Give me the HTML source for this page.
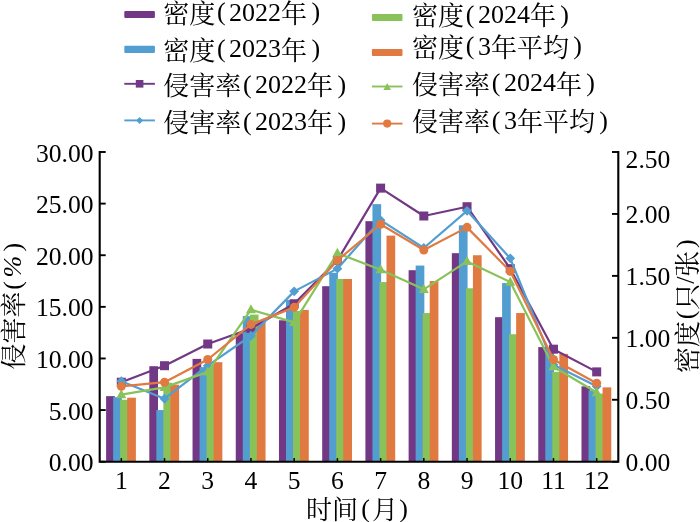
<!DOCTYPE html>
<html lang="zh"><head><meta charset="utf-8"><title>chart</title><style>html,body{margin:0;padding:0;background:#fff}svg{display:block}</style></head><body>
<svg width="700" height="522" viewBox="0 0 700 522">
<rect width="700" height="522" fill="#fff"/>
<rect x="106.11" y="396.15" width="8.7" height="65.55" fill="#723885"/>
<rect x="149.32" y="366.21" width="8.7" height="95.49" fill="#723885"/>
<rect x="192.54" y="358.88" width="8.7" height="102.82" fill="#723885"/>
<rect x="235.76" y="333.17" width="8.7" height="128.53" fill="#723885"/>
<rect x="278.97" y="320.27" width="8.7" height="141.43" fill="#723885"/>
<rect x="322.19" y="286.20" width="8.7" height="175.50" fill="#723885"/>
<rect x="365.41" y="221.17" width="8.7" height="240.53" fill="#723885"/>
<rect x="408.62" y="270.20" width="8.7" height="191.50" fill="#723885"/>
<rect x="451.84" y="253.17" width="8.7" height="208.53" fill="#723885"/>
<rect x="495.06" y="317.17" width="8.7" height="144.53" fill="#723885"/>
<rect x="538.27" y="347.11" width="8.7" height="114.59" fill="#723885"/>
<rect x="581.49" y="386.34" width="8.7" height="75.36" fill="#723885"/>
<rect x="113.14" y="397.18" width="8.7" height="64.52" fill="#529ED1"/>
<rect x="156.35" y="410.08" width="8.7" height="51.62" fill="#529ED1"/>
<rect x="199.57" y="367.14" width="8.7" height="94.56" fill="#529ED1"/>
<rect x="242.79" y="316.14" width="8.7" height="145.56" fill="#529ED1"/>
<rect x="286.00" y="299.93" width="8.7" height="161.77" fill="#529ED1"/>
<rect x="329.22" y="272.78" width="8.7" height="188.92" fill="#529ED1"/>
<rect x="372.44" y="204.13" width="8.7" height="257.57" fill="#529ED1"/>
<rect x="415.65" y="265.56" width="8.7" height="196.14" fill="#529ED1"/>
<rect x="458.87" y="225.30" width="8.7" height="236.40" fill="#529ED1"/>
<rect x="502.09" y="283.11" width="8.7" height="178.59" fill="#529ED1"/>
<rect x="545.30" y="352.27" width="8.7" height="109.43" fill="#529ED1"/>
<rect x="588.52" y="390.47" width="8.7" height="71.23" fill="#529ED1"/>
<rect x="120.17" y="399.76" width="8.7" height="61.94" fill="#8AC25A"/>
<rect x="163.38" y="382.73" width="8.7" height="78.97" fill="#8AC25A"/>
<rect x="206.60" y="365.18" width="8.7" height="96.52" fill="#8AC25A"/>
<rect x="249.82" y="314.59" width="8.7" height="147.11" fill="#8AC25A"/>
<rect x="293.03" y="310.98" width="8.7" height="150.72" fill="#8AC25A"/>
<rect x="336.25" y="278.98" width="8.7" height="182.72" fill="#8AC25A"/>
<rect x="379.47" y="282.07" width="8.7" height="179.63" fill="#8AC25A"/>
<rect x="422.68" y="313.04" width="8.7" height="148.66" fill="#8AC25A"/>
<rect x="465.90" y="288.27" width="8.7" height="173.43" fill="#8AC25A"/>
<rect x="509.12" y="334.21" width="8.7" height="127.49" fill="#8AC25A"/>
<rect x="552.33" y="371.89" width="8.7" height="89.81" fill="#8AC25A"/>
<rect x="595.55" y="393.57" width="8.7" height="68.13" fill="#8AC25A"/>
<rect x="127.20" y="397.70" width="8.7" height="64.00" fill="#E07A41"/>
<rect x="170.41" y="384.69" width="8.7" height="77.01" fill="#E07A41"/>
<rect x="213.63" y="362.18" width="8.7" height="99.52" fill="#E07A41"/>
<rect x="256.85" y="321.30" width="8.7" height="140.40" fill="#E07A41"/>
<rect x="300.06" y="309.95" width="8.7" height="151.75" fill="#E07A41"/>
<rect x="343.28" y="278.98" width="8.7" height="182.72" fill="#E07A41"/>
<rect x="386.50" y="235.62" width="8.7" height="226.08" fill="#E07A41"/>
<rect x="429.71" y="281.04" width="8.7" height="180.66" fill="#E07A41"/>
<rect x="472.93" y="255.23" width="8.7" height="206.47" fill="#E07A41"/>
<rect x="516.15" y="313.04" width="8.7" height="148.66" fill="#E07A41"/>
<rect x="559.36" y="353.82" width="8.7" height="107.88" fill="#E07A41"/>
<rect x="602.58" y="387.37" width="8.7" height="74.33" fill="#E07A41"/>
<g stroke="#000" stroke-width="2.1" fill="none" stroke-linecap="butt">
<path d="M99.7 150.95 V461.7 M618.3 150.95 V461.7 M98.65 461.7 H619.3499999999999"/>
<path d="M99.7 461.70 h6" stroke-width="1.9"/>
<path d="M99.7 410.08 h6" stroke-width="1.9"/>
<path d="M99.7 358.47 h6" stroke-width="1.9"/>
<path d="M99.7 306.85 h6" stroke-width="1.9"/>
<path d="M99.7 255.23 h6" stroke-width="1.9"/>
<path d="M99.7 203.62 h6" stroke-width="1.9"/>
<path d="M99.7 152.00 h6" stroke-width="1.9"/>
<path d="M618.3 461.70 h-6.3" stroke-width="1.9"/>
<path d="M618.3 399.76 h-6.3" stroke-width="1.9"/>
<path d="M618.3 337.82 h-6.3" stroke-width="1.9"/>
<path d="M618.3 275.88 h-6.3" stroke-width="1.9"/>
<path d="M618.3 213.94 h-6.3" stroke-width="1.9"/>
<path d="M618.3 152.00 h-6.3" stroke-width="1.9"/>
<path d="M121.31 461.7 v-3.6" stroke-width="1.5"/>
<path d="M164.52 461.7 v-3.6" stroke-width="1.5"/>
<path d="M207.74 461.7 v-3.6" stroke-width="1.5"/>
<path d="M250.96 461.7 v-3.6" stroke-width="1.5"/>
<path d="M294.17 461.7 v-3.6" stroke-width="1.5"/>
<path d="M337.39 461.7 v-3.6" stroke-width="1.5"/>
<path d="M380.61 461.7 v-3.6" stroke-width="1.5"/>
<path d="M423.82 461.7 v-3.6" stroke-width="1.5"/>
<path d="M467.04 461.7 v-3.6" stroke-width="1.5"/>
<path d="M510.26 461.7 v-3.6" stroke-width="1.5"/>
<path d="M553.47 461.7 v-3.6" stroke-width="1.5"/>
<path d="M596.69 461.7 v-3.6" stroke-width="1.5"/>
</g>
<polyline fill="none" stroke="#723885" stroke-width="2.2" stroke-linejoin="round" points="121.31,382.21 164.52,365.69 207.74,344.01 250.96,328.53 294.17,303.75 337.39,260.39 380.61,188.13 423.82,216.00 467.04,206.71 510.26,268.65 553.47,349.18 596.69,371.89"/>
<rect x="116.81" y="377.71" width="9" height="9" fill="#723885"/>
<rect x="160.02" y="361.19" width="9" height="9" fill="#723885"/>
<rect x="203.24" y="339.51" width="9" height="9" fill="#723885"/>
<rect x="246.46" y="324.03" width="9" height="9" fill="#723885"/>
<rect x="289.67" y="299.25" width="9" height="9" fill="#723885"/>
<rect x="332.89" y="255.89" width="9" height="9" fill="#723885"/>
<rect x="376.11" y="183.63" width="9" height="9" fill="#723885"/>
<rect x="419.32" y="211.50" width="9" height="9" fill="#723885"/>
<rect x="462.54" y="202.21" width="9" height="9" fill="#723885"/>
<rect x="505.76" y="264.15" width="9" height="9" fill="#723885"/>
<rect x="548.97" y="344.68" width="9" height="9" fill="#723885"/>
<rect x="592.19" y="367.39" width="9" height="9" fill="#723885"/>
<polyline fill="none" stroke="#529ED1" stroke-width="2.2" stroke-linejoin="round" points="121.31,381.18 164.52,398.73 207.74,365.69 250.96,335.76 294.17,291.37 337.39,268.65 380.61,220.13 423.82,248.01 467.04,210.84 510.26,258.33 553.47,364.66 596.69,386.34"/>
<path d="M121.31 376.28 l4.9 4.9 l-4.9 4.9 l-4.9 -4.9z" fill="#529ED1"/>
<path d="M164.52 393.83 l4.9 4.9 l-4.9 4.9 l-4.9 -4.9z" fill="#529ED1"/>
<path d="M207.74 360.79 l4.9 4.9 l-4.9 4.9 l-4.9 -4.9z" fill="#529ED1"/>
<path d="M250.96 330.86 l4.9 4.9 l-4.9 4.9 l-4.9 -4.9z" fill="#529ED1"/>
<path d="M294.17 286.47 l4.9 4.9 l-4.9 4.9 l-4.9 -4.9z" fill="#529ED1"/>
<path d="M337.39 263.75 l4.9 4.9 l-4.9 4.9 l-4.9 -4.9z" fill="#529ED1"/>
<path d="M380.61 215.23 l4.9 4.9 l-4.9 4.9 l-4.9 -4.9z" fill="#529ED1"/>
<path d="M423.82 243.11 l4.9 4.9 l-4.9 4.9 l-4.9 -4.9z" fill="#529ED1"/>
<path d="M467.04 205.94 l4.9 4.9 l-4.9 4.9 l-4.9 -4.9z" fill="#529ED1"/>
<path d="M510.26 253.43 l4.9 4.9 l-4.9 4.9 l-4.9 -4.9z" fill="#529ED1"/>
<path d="M553.47 359.76 l4.9 4.9 l-4.9 4.9 l-4.9 -4.9z" fill="#529ED1"/>
<path d="M596.69 381.44 l4.9 4.9 l-4.9 4.9 l-4.9 -4.9z" fill="#529ED1"/>
<polyline fill="none" stroke="#8AC25A" stroke-width="2.2" stroke-linejoin="round" points="121.31,394.60 164.52,387.37 207.74,371.89 250.96,309.64 294.17,322.34 337.39,253.17 380.61,269.69 423.82,289.30 467.04,261.43 510.26,282.07 553.47,366.73 596.69,392.53"/>
<path d="M121.31 389.20 l5 9 h-10z" fill="#8AC25A"/>
<path d="M164.52 381.97 l5 9 h-10z" fill="#8AC25A"/>
<path d="M207.74 366.49 l5 9 h-10z" fill="#8AC25A"/>
<path d="M250.96 304.24 l5 9 h-10z" fill="#8AC25A"/>
<path d="M294.17 316.94 l5 9 h-10z" fill="#8AC25A"/>
<path d="M337.39 247.77 l5 9 h-10z" fill="#8AC25A"/>
<path d="M380.61 264.29 l5 9 h-10z" fill="#8AC25A"/>
<path d="M423.82 283.90 l5 9 h-10z" fill="#8AC25A"/>
<path d="M467.04 256.03 l5 9 h-10z" fill="#8AC25A"/>
<path d="M510.26 276.67 l5 9 h-10z" fill="#8AC25A"/>
<path d="M553.47 361.33 l5 9 h-10z" fill="#8AC25A"/>
<path d="M596.69 387.13 l5 9 h-10z" fill="#8AC25A"/>
<polyline fill="none" stroke="#E07A41" stroke-width="2.2" stroke-linejoin="round" points="121.31,386.34 164.52,382.21 207.74,359.50 250.96,324.40 294.17,307.37 337.39,260.39 380.61,224.26 423.82,250.07 467.04,227.36 510.26,271.23 553.47,359.50 596.69,383.24"/>
<circle cx="121.31" cy="386.34" r="4.5" fill="#E07A41"/>
<circle cx="164.52" cy="382.21" r="4.5" fill="#E07A41"/>
<circle cx="207.74" cy="359.50" r="4.5" fill="#E07A41"/>
<circle cx="250.96" cy="324.40" r="4.5" fill="#E07A41"/>
<circle cx="294.17" cy="307.37" r="4.5" fill="#E07A41"/>
<circle cx="337.39" cy="260.39" r="4.5" fill="#E07A41"/>
<circle cx="380.61" cy="224.26" r="4.5" fill="#E07A41"/>
<circle cx="423.82" cy="250.07" r="4.5" fill="#E07A41"/>
<circle cx="467.04" cy="227.36" r="4.5" fill="#E07A41"/>
<circle cx="510.26" cy="271.23" r="4.5" fill="#E07A41"/>
<circle cx="553.47" cy="359.50" r="4.5" fill="#E07A41"/>
<circle cx="596.69" cy="383.24" r="4.5" fill="#E07A41"/>
<g font-family="'Liberation Serif', 'Noto Serif CJK SC', serif" font-size="25.6" fill="#000">
<text x="93.5" y="471.20" text-anchor="end">0.00</text>
<text x="93.5" y="419.58" text-anchor="end">5.00</text>
<text x="93.5" y="367.97" text-anchor="end">10.00</text>
<text x="93.5" y="316.35" text-anchor="end">15.00</text>
<text x="93.5" y="264.73" text-anchor="end">20.00</text>
<text x="93.5" y="213.12" text-anchor="end">25.00</text>
<text x="93.5" y="161.50" text-anchor="end">30.00</text>
<text x="625.6" y="470.90">0.00</text>
<text x="625.6" y="408.96">0.50</text>
<text x="625.6" y="347.02">1.00</text>
<text x="625.6" y="285.08">1.50</text>
<text x="625.6" y="223.14">2.00</text>
<text x="625.6" y="167.70">2.50</text>
<text x="121.31" y="489" text-anchor="middle">1</text>
<text x="164.52" y="489" text-anchor="middle">2</text>
<text x="207.74" y="489" text-anchor="middle">3</text>
<text x="250.96" y="489" text-anchor="middle">4</text>
<text x="294.17" y="489" text-anchor="middle">5</text>
<text x="337.39" y="489" text-anchor="middle">6</text>
<text x="380.61" y="489" text-anchor="middle">7</text>
<text x="423.82" y="489" text-anchor="middle">8</text>
<text x="467.04" y="489" text-anchor="middle">9</text>
<text x="510.26" y="489" text-anchor="middle">10</text>
<text x="553.47" y="489" text-anchor="middle">11</text>
<text x="596.69" y="489" text-anchor="middle">12</text>
<text x="306" y="519.3" font-size="26">时间<tspan dx="3.2" dy="-2.4">(</tspan><tspan dx="2.0" dy="2.4">月</tspan><tspan dx="1.4" dy="-2.4">)</tspan></text>
<text transform="translate(23 306.2) rotate(-90)" text-anchor="middle" font-size="26">侵害率<tspan dx="1.7" dy="-2.40">(</tspan><tspan dx="3.5" dy="0.20" font-style="italic">%</tspan><tspan dx="4.3" dy="-0.20">)</tspan></text>
<text transform="translate(696.5 306.2) rotate(-90)" text-anchor="middle" font-size="26">密度<tspan dx="1.7" dy="-2.40">(</tspan><tspan dx="0.8" dy="2.40">只</tspan><tspan dy="-2.20">/</tspan><tspan dy="2.20">张</tspan><tspan dx="2.6" dy="-2.40">)</tspan></text>
<rect x="124.3" y="10.90" width="30.6" height="7.2" rx="1" fill="#723885"/>
<text x="163.20" y="22.80" font-size="26">密度<tspan dx="1.7" dy="-2.40">(</tspan><tspan dx="3.5" dy="0.20">2022</tspan><tspan dy="2.20">年</tspan><tspan dx="4.3" dy="-2.40">)</tspan></text>
<rect x="124.3" y="45.70" width="30.6" height="7.2" rx="1" fill="#529ED1"/>
<text x="163.20" y="59.60" font-size="26">密度<tspan dx="1.7" dy="-2.40">(</tspan><tspan dx="3.5" dy="0.20">2023</tspan><tspan dy="2.20">年</tspan><tspan dx="4.3" dy="-2.40">)</tspan></text>
<path d="M124.3 83.8 h30.6" stroke="#723885" stroke-width="1.9" fill="none"/>
<rect x="135.80" y="80.00" width="7.6" height="7.6" fill="#723885"/>
<text x="163.20" y="95.40" font-size="26">侵害率<tspan dx="1.7" dy="-2.40">(</tspan><tspan dx="3.5" dy="0.20">2022</tspan><tspan dy="2.20">年</tspan><tspan dx="4.3" dy="-2.40">)</tspan></text>
<path d="M124.3 120.4 h30.6" stroke="#529ED1" stroke-width="1.9" fill="none"/>
<path d="M139.60 116.90 l3.5 3.5 l-3.5 3.5 l-3.5 -3.5z" fill="#529ED1"/>
<text x="163.20" y="132.00" font-size="26">侵害率<tspan dx="1.7" dy="-2.40">(</tspan><tspan dx="3.5" dy="0.20">2023</tspan><tspan dy="2.20">年</tspan><tspan dx="4.3" dy="-2.40">)</tspan></text>
<rect x="371.9" y="13.90" width="30.6" height="7.2" rx="1" fill="#8AC25A"/>
<text x="412.10" y="25.10" font-size="26">密度<tspan dx="1.7" dy="-2.40">(</tspan><tspan dx="3.5" dy="0.20">2024</tspan><tspan dy="2.20">年</tspan><tspan dx="4.3" dy="-2.40">)</tspan></text>
<rect x="371.9" y="48.90" width="30.6" height="7.2" rx="1" fill="#E07A41"/>
<text x="412.10" y="56.70" font-size="26">密度<tspan dx="1.7" dy="-2.40">(</tspan><tspan dx="3.5" dy="0.20">3</tspan><tspan dy="2.20">年平均</tspan><tspan dx="4.3" dy="-2.40">)</tspan></text>
<path d="M371.9 86.5 h30.6" stroke="#8AC25A" stroke-width="1.9" fill="none"/>
<path d="M387.20 82.90 l3.8 7.2 h-7.6z" fill="#8AC25A"/>
<text x="412.10" y="93.50" font-size="26">侵害率<tspan dx="1.7" dy="-2.40">(</tspan><tspan dx="3.5" dy="0.20">2024</tspan><tspan dy="2.20">年</tspan><tspan dx="4.3" dy="-2.40">)</tspan></text>
<path d="M371.9 123.6 h30.6" stroke="#E07A41" stroke-width="1.9" fill="none"/>
<circle cx="387.20" cy="123.60" r="4.1" fill="#E07A41"/>
<text x="412.10" y="131.00" font-size="26">侵害率<tspan dx="1.7" dy="-2.40">(</tspan><tspan dx="3.5" dy="0.20">3</tspan><tspan dy="2.20">年平均</tspan><tspan dx="4.3" dy="-2.40">)</tspan></text>
</g>
</svg>
</body></html>
